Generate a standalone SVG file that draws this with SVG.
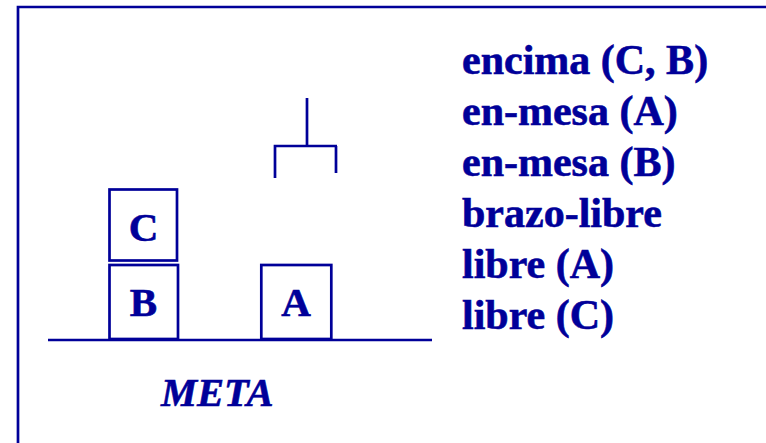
<svg xmlns="http://www.w3.org/2000/svg" width="766" height="443" viewBox="0 0 766 443">
<style>
.ln{stroke:#000099;fill:none;stroke-width:2.7}
.box{stroke:#000099;fill:#ffffff;stroke-width:2.7}
.t{font-family:"Liberation Serif","Times New Roman",serif;font-weight:bold;fill:#000099;stroke:#000099;stroke-width:0.6}
.lbl{font-size:41px;text-anchor:middle}
.lst{font-size:42px}
.meta{font-size:40.5px;font-style:italic}
</style>
<rect width="766" height="443" fill="#ffffff"/>
<path class="ln" d="M18 443 V7 H766" stroke-width="2.5"/>
<g id="connectors">
<line class="ln" x1="48" y1="340" x2="432" y2="340" stroke-width="3"/>
</g>
<g id="gripper">
<path class="ln" d="M307 98 V146 M275 178 V146 H337 M336 146 V173"/>
</g>
<g id="blockC">
<rect class="box" x="109.5" y="189.5" width="67.5" height="71"/>
<text class="t lbl" x="143.5" y="241">C</text>
</g>
<g id="blockB">
<rect class="box" x="109.5" y="265" width="68.5" height="74"/>
<text class="t lbl" x="143.5" y="316">B</text>
</g>
<g id="blockA">
<rect class="box" x="261.3" y="265" width="70" height="74"/>
<text class="t lbl" x="296" y="316">A</text>
</g>
<g id="state">
<text class="t lst" x="462" y="74">encima (C, B)</text>
<text class="t lst" x="462" y="125">en-mesa (A)</text>
<text class="t lst" x="462" y="176">en-mesa (B)</text>
<text class="t lst" x="462" y="227">brazo-libre</text>
<text class="t lst" x="462" y="278">libre (A)</text>
<text class="t lst" x="462" y="329">libre (C)</text>
</g>
<g id="title">
<text class="t meta" x="161" y="406">META</text>
</g>
</svg>
